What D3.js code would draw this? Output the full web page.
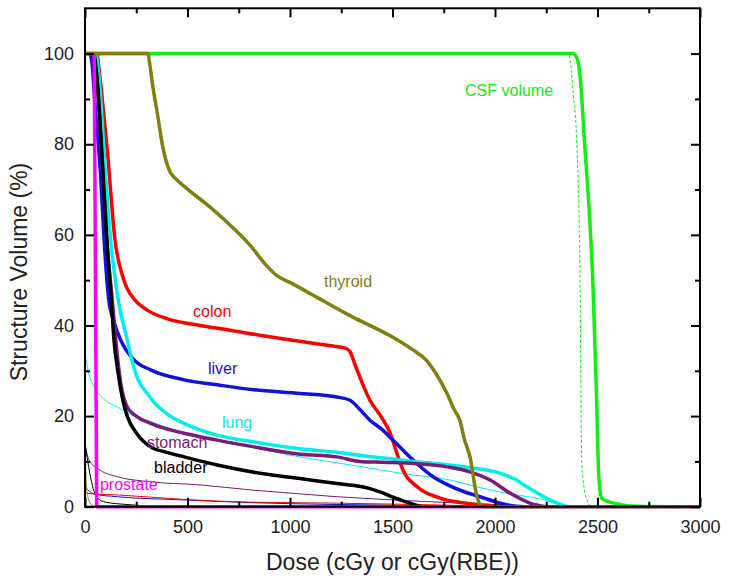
<!DOCTYPE html>
<html><head><meta charset="utf-8">
<script src="https://cdn.jsdelivr.net/npm/d3@7"></script>
<style>
body{margin:0;background:#fff;}
text{font-family:"Liberation Sans",Arial,Helvetica,sans-serif;}
</style></head>
<body><svg id="chart" width="729" height="582"></svg>
<script>
// ---- data: [dose (cGy), structure volume (%)] ----
const csfThick = [[0,100],[2380,100],[2400,99],[2415,95],[2439,79],[2460,65],[2477,50],[2495,25],[2505,8],[2512,3.7],[2520,1.9],[2560,1],[2620,0.4],[2700,0.1],[2900,0]];
const csfThin = [[0,100],[2355,100],[2365,99],[2380,92],[2400,79],[2415,50],[2423,10],[2435,4],[2455,0.8],[2470,0]];
const colonThick = [[60,100],[80,92],[110,78],[146,59],[190,50],[244,45.6],[300,43.5],[400,41.5],[561,40],[700,39],[900,37.5],[1049,36.5],[1200,35.5],[1270,35],[1293,34.2],[1320,31],[1390,23.5],[1450,19.5],[1488,16.3],[1520,12],[1551,8.1],[1620,4.4],[1732,1.9],[1850,0.8],[1950,0.3],[2050,0]];
const liverThick = [[25,100],[34,98],[50,88],[75,74],[93,59],[115,46],[140,41],[174,36.8],[239,32.4],[320,30.2],[483,28],[645,26.9],[824,25.8],[1050,25],[1229,24.2],[1293,23.5],[1340,21.5],[1390,19.1],[1450,17],[1502,14.7],[1600,10.3],[1698,6.6],[1780,4.6],[1850,3.3],[1927,2.2],[2024,0.8],[2100,0.1],[2150,0]];
const lungThick = [[55,100],[70,94],[99,74],[125,59],[161,46],[206,36.8],[240,30.5],[320,24],[400,20.5],[483,18.4],[645,15.8],[824,14.3],[1049,12.8],[1229,12],[1400,11],[1600,10],[1780,9.2],[1900,8.5],[2024,7.4],[2100,6],[2156,4.4],[2268,1.5],[2350,0]];
const stomachThick = [[40,100],[55,96],[86,74],[106,59],[132,46],[150,36.8],[175,27],[206,22],[250,20],[320,18.4],[483,16.2],[645,14.7],[824,13.2],[1049,11.6],[1229,11],[1341,10],[1450,9.8],[1585,9.6],[1700,9.2],[1780,8.7],[1878,7.7],[1976,5.9],[2073,3],[2170,0.8],[2250,0]];
const bladderThick = [[45,100],[60,94],[85,76],[105,60],[128,46],[141,37],[160,30],[174,26],[190,22.5],[206,20],[255,16],[320,13.2],[400,12],[483,11],[645,9.2],[824,7.6],[1049,6.2],[1229,5.1],[1390,4],[1450,3.1],[1502,2.1],[1585,0.8],[1640,0]];
const prostateThick = [[0,100],[45,100],[57,0],[3000,0]];
const thyroidThick = [[0,100],[307,100],[315,98],[330,93],[350,87.6],[382,78.8],[414,74],[440,72.5],[497,70.2],[600,66.5],[700,62.5],[800,58],[880,53.5],[936,51],[1000,49.5],[1049,48.3],[1132,46.2],[1300,42],[1502,37.4],[1600,34.6],[1666,32.3],[1710,29.5],[1766,25],[1800,21.5],[1829,19],[1850,15],[1878,11],[1912,2.2],[1940,0],[3000,0]];
const lungThin = [[0,34],[15,30],[44,26.5],[90,23.8],[158,22],[230,20.2],[320,18.8],[483,16.2],[645,14.7],[808,13.2],[951,11.8],[1100,10.6],[1341,8.9],[1550,7.3],[1780,5.9],[1900,4.5],[2050,3],[2268,1.1],[2330,0]];
const stomachThin = [[0,14],[8,12],[20,10.3],[60,8.5],[158,6.6],[320,5.5],[564,4.8],[808,3.7],[1000,3],[1200,2.3],[1500,1.5],[1829,0.8],[2100,0.3],[2300,0]];
const liverThin = [[0,4.4],[44,2.8],[158,2.2],[483,1.5],[808,0.9],[1200,0.5],[1600,0.3],[2000,0.1],[2200,0]];
const colonThin = [[0,3],[50,2.8],[158,2.6],[483,1.6],[808,1.0],[1200,0.8],[1600,0.5],[1900,0.2],[2050,0]];
const bladderThin = [[0,14],[10,11],[25,7],[40,4],[60,2],[100,1],[200,0.5],[400,0]];
const thyroidThin = [[0,100],[1,30],[3,10],[8,4],[15,2],[30,0.5],[50,0]];

const labels = ["CSF volume","thyroid","colon","liver","lung","stomach","bladder","prostate"];
const labelDose = [1854,1166,527,600,668,302,337,73];
const labelVol = [91.9,49.8,43.0,30.6,18.5,14.1,8.6,5.0];
const labelColors = ["#11ee11","#808010","#ff0000","#1010e0","#00eeee","#7a1a7a","#000000","#ff00ff"];

const xTicks = [0,500,1000,1500,2000,2500,3000];
const yTicks = [0,20,40,60,80,100];

// ---- layout ----
const svg = d3.select("#chart");
const L = 85, R = 700, T = 8.3, B = 506.7;
const x = d3.scaleLinear().domain([0,3000]).range([L,R]);
const y = d3.scaleLinear().domain([0,110]).range([B,T]);
const line = d3.line().x(d=>x(d[0])).y(d=>y(d[1])).curve(d3.curveMonotoneX);
const lineStraight = d3.line().x(d=>x(d[0])).y(d=>y(d[1]));

const g = svg.append("g");
const series = [
  {d:lungThin, c:"#00eeee", w:1},
  {d:stomachThin, c:"#7a1a7a", w:1},
  {d:liverThin, c:"#1010e0", w:1},
  {d:colonThin, c:"#ff0000", w:1},
  {d:bladderThin, c:"#000000", w:1},
  {d:csfThick, c:"#11ee11", w:3.5},
  {d:csfThin, c:"#11ee11", w:1, dash:"3,2"},
  {d:colonThick, c:"#ff0000", w:3.5},
  {d:liverThick, c:"#1010e0", w:3.5},
  {d:lungThick, c:"#00eeee", w:3.5},
  {d:stomachThick, c:"#7a1a7a", w:3.5},
  {d:bladderThick, c:"#000000", w:3.5},
  {d:prostateThick, c:"#ff00ff", w:3.5, straight:true},
  {d:thyroidThin, c:"#808010", w:1},
  {d:thyroidThick, c:"#808010", w:3.5}
];
series.forEach(s=>{
  g.append("path").datum(s.d).attr("d", s.straight ? lineStraight(s.d) : line(s.d))
   .attr("fill","none").attr("stroke",s.c).attr("stroke-width",s.w)
   .attr("stroke-dasharray", s.dash||null).attr("stroke-linejoin","round");
});

// frame
svg.append("rect").attr("x",L).attr("y",T).attr("width",R-L).attr("height",B-T)
  .attr("fill","none").attr("stroke","#000").attr("stroke-width",2);

function styleAxis(sel){
  sel.select(".domain").remove();
  sel.selectAll("line").attr("stroke","#000").attr("stroke-width",2);
  sel.selectAll("text").attr("font-size",18).attr("fill","#222");
}
const minorX = d3.range(250,3000,500);
const minorY = d3.range(10,110,20);
// bottom
svg.append("g").attr("transform",`translate(0,${B})`)
  .call(d3.axisBottom(x).tickValues(xTicks).tickSize(-9).tickPadding(14).tickFormat(d3.format("d"))).call(styleAxis);
svg.append("g").attr("transform",`translate(0,${B})`)
  .call(d3.axisBottom(x).tickValues(minorX).tickSize(-5).tickFormat("")).call(styleAxis);
// top
svg.append("g").attr("transform",`translate(0,${T})`)
  .call(d3.axisTop(x).tickValues(xTicks).tickSize(-9).tickFormat("")).call(styleAxis);
svg.append("g").attr("transform",`translate(0,${T})`)
  .call(d3.axisTop(x).tickValues(minorX).tickSize(-5).tickFormat("")).call(styleAxis);
// left
svg.append("g").attr("transform",`translate(${L},0)`)
  .call(d3.axisLeft(y).tickValues(yTicks).tickSize(-9).tickPadding(11)).call(styleAxis);
svg.append("g").attr("transform",`translate(${L},0)`)
  .call(d3.axisLeft(y).tickValues(minorY).tickSize(-5).tickFormat("")).call(styleAxis);
// right
svg.append("g").attr("transform",`translate(${R},0)`)
  .call(d3.axisRight(y).tickValues(yTicks).tickSize(-9).tickFormat("")).call(styleAxis);
svg.append("g").attr("transform",`translate(${R},0)`)
  .call(d3.axisRight(y).tickValues(minorY).tickSize(-5).tickFormat("")).call(styleAxis);

// series labels
labels.forEach((t,i)=>{
  svg.append("text").attr("x",x(labelDose[i])).attr("y",y(labelVol[i]))
    .attr("dy","0.35em").attr("font-size",16).attr("fill",labelColors[i]).text(t);
});

// axis titles
svg.append("text").attr("x",(L+R)/2).attr("y",570).attr("text-anchor","middle")
  .attr("font-size",23).attr("fill","#222").text("Dose (cGy or cGy(RBE))");
svg.append("text").attr("transform","translate(27,272) rotate(-90)").attr("text-anchor","middle")
  .attr("font-size",23).attr("fill","#222").text("Structure Volume (%)");
</script></body></html>
